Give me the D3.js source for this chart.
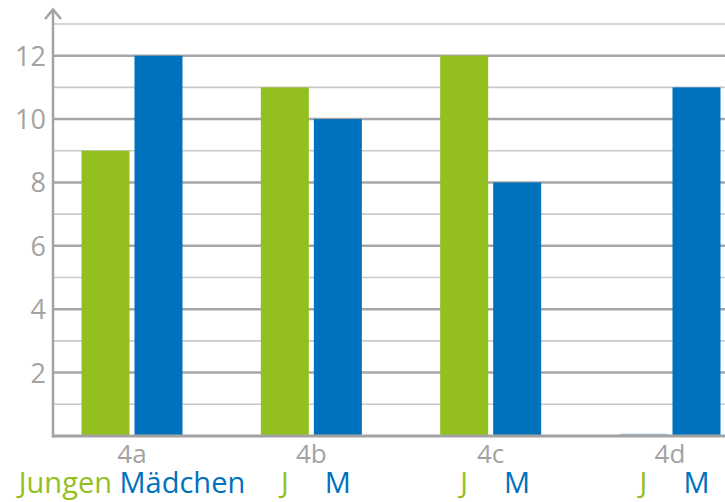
<!DOCTYPE html>
<html>
<head>
<meta charset="utf-8">
<script src="https://cdn.jsdelivr.net/npm/d3@7"></script>
<style>
  body { margin: 0; background: #fff; }
  text { font-family: "Open Sans", "Noto Sans", sans-serif; }
</style>
</head>
<body>
<div id="chart"></div>
<script>
// Data
const classes = ["4a", "4b", "4c", "4d"];
const jungen = [9, 11, 12, 0];
const maedchen = [12, 10, 8, 11];
const yTicks = [2, 4, 6, 8, 10, 12];

const width = 725, height = 502;
const green = "#93c01f", blue = "#0071bc", grey = "#a3a3a3";

const svg = d3.select("#chart").append("svg")
  .attr("width", width).attr("height", height);

// Scales
const y = d3.scaleLinear().domain([0, 13]).range([436, 24]);
const x = d3.scalePoint().domain(classes).range([132, 670]);
const barW = 48, gap = 5;

// Grid lines (every unit, even ones darker)
svg.append("g").selectAll("line")
  .data(d3.range(1, 14))
  .enter().append("line")
  .attr("x1", 53).attr("x2", width)
  .attr("y1", d => y(d)).attr("y2", d => y(d))
  .attr("stroke", d => d % 2 === 0 ? "#a6a6a6" : "#c9c9c9")
  .attr("stroke-width", d => d % 2 === 0 ? 2.5 : 1.6);

// Bars
const groups = svg.append("g").selectAll("g")
  .data(classes)
  .enter().append("g");

groups.append("rect")
  .attr("x", d => x(d) - gap / 2 - barW)
  .attr("y", (d, i) => y(jungen[i]))
  .attr("width", barW)
  .attr("height", (d, i) => y(0) - y(jungen[i]))
  .attr("fill", green);

groups.append("rect")
  .attr("x", d => x(d) + gap / 2)
  .attr("y", (d, i) => y(maedchen[i]))
  .attr("width", barW)
  .attr("height", (d, i) => y(0) - y(maedchen[i]))
  .attr("fill", blue);

// zero-height bar hint
groups.filter((d, i) => jungen[i] === 0).append("line")
  .attr("x1", d => x(d) - gap / 2 - barW)
  .attr("x2", d => x(d) - gap / 2)
  .attr("y1", y(0) - 1.5).attr("y2", y(0) - 1.5)
  .attr("stroke", "#9ec3de").attr("stroke-width", 1.5);

// Baseline
svg.append("line")
  .attr("x1", 52).attr("x2", width)
  .attr("y1", y(0)).attr("y2", y(0))
  .attr("stroke", grey).attr("stroke-width", 3);

// Y axis with arrow
svg.append("line")
  .attr("x1", 53).attr("x2", 53)
  .attr("y1", y(0) + 1.5).attr("y2", 9)
  .attr("stroke", grey).attr("stroke-width", 2.5);
svg.append("polyline")
  .attr("points", "45,19 53,9.5 61,19")
  .attr("fill", "none")
  .attr("stroke", grey).attr("stroke-width", 2.5);

// Y tick labels
svg.append("g").selectAll("text")
  .data(yTicks)
  .enter().append("text")
  .attr("x", 46)
  .attr("y", d => y(d) + 10)
  .attr("text-anchor", "end")
  .attr("font-size", 27)
  .attr("fill", grey)
  .text(d => d);

// Category labels
groups.append("text")
  .attr("x", d => x(d))
  .attr("y", 463)
  .attr("text-anchor", "middle")
  .attr("font-size", 26)
  .attr("fill", grey)
  .text(d => d);

// Legend row: full words under first group, initials under the rest
const first = groups.filter((d, i) => i === 0).append("text")
  .attr("x", d => x(d))
  .attr("y", 493)
  .attr("text-anchor", "middle")
  .attr("font-size", 29);
first.append("tspan").attr("fill", green).text("Jungen");
first.append("tspan").attr("fill", blue).text(" Mädchen");

const rest = groups.filter((d, i) => i > 0);
rest.append("text")
  .attr("x", d => x(d) - gap / 2 - barW / 2)
  .attr("y", 493)
  .attr("text-anchor", "middle")
  .attr("font-size", 29)
  .attr("fill", green)
  .text("J");
rest.append("text")
  .attr("x", d => x(d) + gap / 2 + barW / 2)
  .attr("y", 493)
  .attr("text-anchor", "middle")
  .attr("font-size", 29)
  .attr("fill", blue)
  .text("M");
</script>
</body>
</html>
